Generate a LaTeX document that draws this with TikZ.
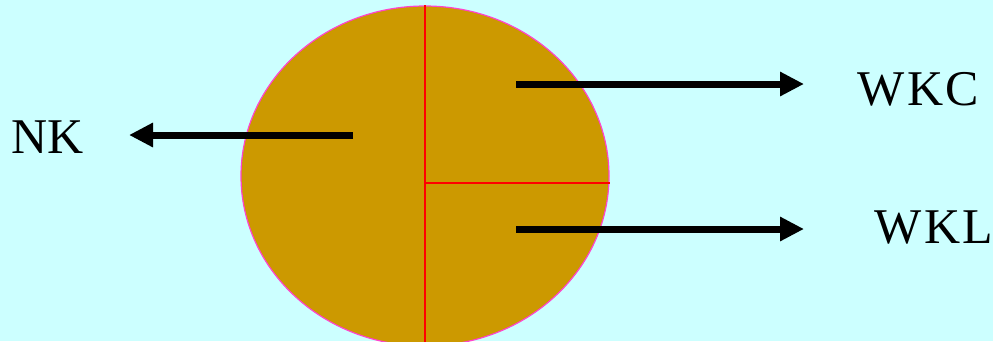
\documentclass[tikz,border=0pt]{standalone}
\usepackage{fontspec}
\setmainfont{Liberation Serif}
\usetikzlibrary{arrows.meta,shapes.geometric}
\definecolor{bgcyan}{HTML}{CCFFFF}
\definecolor{disk}{HTML}{CC9900}
\definecolor{rim}{HTML}{FF44CC}
\begin{document}
\begin{tikzpicture}[x=1pt,y=-1pt,
  lbl/.style={inner sep=0pt,anchor=base,font=\fontsize{50}{60}\selectfont},
  bigarrow/.style={line width=7pt,-{Triangle[length=24pt,width=23pt]}},
  divider/.style={red,line width=1.5pt}]
\fill[bgcyan] (0,0) rectangle (993,341);
\useasboundingbox (0,0) rectangle (993,341);
\begin{scope}
\clip (0,0) rectangle (993,341);
\node[draw=rim,fill=disk,line width=1.2pt,ellipse,minimum width=368pt,minimum height=340pt,inner sep=0pt] (disk) at (425,176) {};
\draw[divider] (disk.north) -- (disk.south);
\draw[divider] (425,183) -- (610,183);
\end{scope}
\node[lbl] (nk) at (48,153) {NK};
\node[lbl] (wkc) at (918,105) {W\kern3pt K\kern2pt C};
\node[lbl] (wkl) at (934,243) {W\kern3pt K\kern2pt L};
\coordinate (a1) at (353,135);
\coordinate (a1e) at (129,135);
\coordinate (a2) at (516,84);
\coordinate (a2e) at (804,84);
\coordinate (a3) at (516,229);
\coordinate (a3e) at (804,229);
\draw[bigarrow] (a1) -- (a1e);
\draw[bigarrow] (a2) -- (a2e);
\draw[bigarrow] (a3) -- (a3e);
\end{tikzpicture}
\end{document}
